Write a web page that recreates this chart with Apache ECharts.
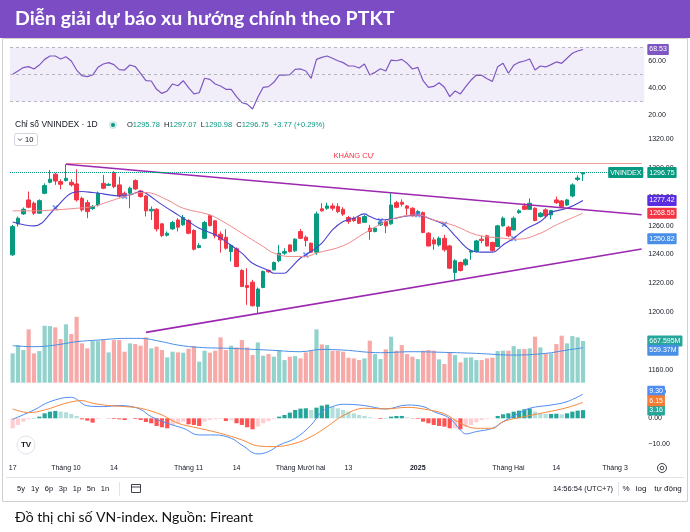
<!DOCTYPE html>
<html><head><meta charset="utf-8">
<script src="https://cdn.jsdelivr.net/npm/echarts@6.0.0/dist/echarts.min.js"></script>
<style>html,body{margin:0;padding:0;background:#fff}#c{width:690px;height:532px}</style>
</head><body><div id="c"></div>
<script>
// ---------- DATA ----------
const dates = [
'2024-09-17','2024-09-18','2024-09-19','2024-09-20','2024-09-23','2024-09-24','2024-09-25','2024-09-26','2024-09-27','2024-09-30',
'2024-10-01','2024-10-02','2024-10-03','2024-10-04','2024-10-07','2024-10-08','2024-10-09','2024-10-10','2024-10-11','2024-10-14',
'2024-10-15','2024-10-16','2024-10-17','2024-10-18','2024-10-21','2024-10-22','2024-10-23','2024-10-24','2024-10-25','2024-10-28',
'2024-10-29','2024-10-30','2024-10-31',
'2024-11-01','2024-11-04','2024-11-05','2024-11-06','2024-11-07','2024-11-08','2024-11-11','2024-11-12','2024-11-13','2024-11-14',
'2024-11-15','2024-11-18','2024-11-19','2024-11-20','2024-11-21','2024-11-22','2024-11-25','2024-11-26','2024-11-27','2024-11-28','2024-11-29',
'2024-12-02','2024-12-03','2024-12-04','2024-12-05','2024-12-06','2024-12-09','2024-12-10','2024-12-11','2024-12-12','2024-12-13',
'2024-12-16','2024-12-17','2024-12-18','2024-12-19','2024-12-20','2024-12-23','2024-12-24','2024-12-25','2024-12-26','2024-12-27',
'2024-12-30','2024-12-31',
'2025-01-02','2025-01-03','2025-01-06','2025-01-07','2025-01-08','2025-01-09','2025-01-10','2025-01-13','2025-01-14','2025-01-15',
'2025-01-16','2025-01-17','2025-01-20','2025-01-21','2025-01-22','2025-01-23','2025-01-24',
'2025-02-03','2025-02-04','2025-02-05','2025-02-06','2025-02-07','2025-02-10','2025-02-11','2025-02-12','2025-02-13','2025-02-14',
'2025-02-17','2025-02-18','2025-02-19','2025-02-20','2025-02-21','2025-02-24','2025-02-25','2025-02-26','2025-02-27','2025-02-28',
'2025-03-03','2025-03-04','2025-03-05','2025-03-06','2025-03-07','2025-03-10'
];
const tickDates = ['2024-09-17','2024-10-01','2024-10-14','2024-11-01','2024-11-14','2024-12-02','2024-12-13','2025-01-02','2025-02-03','2025-02-14','2025-03-03'];
const tickTexts = ['17','Tháng 10','14','Tháng 11','14','Tháng Mười hai','13','2025','Tháng Hai','14','Tháng 3'];

const openP = [1239.7,1261.2,1268.1,1277.8,1275.5,1268.6,1282.4,1290.0,1295.6,1290.5,1291.2,1290.0,1288.9,1278.9,1275.9,1271.8,1274.3,1289.3,1287.9,1296.7,
1288.2,1282.4,1282.4,1291.2,1284.0,1280.5,1270.2,1271.3,1261.2,1253.3,1257.7,1263.9,1260.5,1263.5,1256.6,1244.8,1251.2,1266.9,1263.3,1254.0,
1251.9,1242.0,1243.9,1228.9,1218.5,1220.8,1204.0,1217.1,1228.9,1229.3,1235.6,1240.9,1246.6,1242.5,1255.9,1251.9,1247.8,1241.6,1271.6,1272.0,
1273.6,1273.2,1271.3,1265.6,1265.1,1265.6,1262.3,1258.2,1255.9,1260.5,1262.8,1261.2,1275.9,1276.2,1273.6,1272.0,1268.1,1269.0,1254.7,1250.1,
1246.6,1251.2,1245.9,1227.5,1234.4,1232.8,1241.6,1242.0,1250.6,1252.9,1248.3,1245.5,1259.8,1258.9,1257.0,1269.0,1273.6,1271.3,1272.0,1266.3,
1270.9,1267.4,1277.8,1277.1,1274.3,1280.5,1292.0,1295.78];
const highP = [1260.5,1266.3,1272.5,1283.6,1276.6,1278.2,1289.3,1298.5,1296.7,1292.1,1302.5,1292.1,1299.0,1280.1,1277.8,1274.3,1283.6,1295.1,1289.5,1297.9,
1293.9,1283.6,1287.0,1292.1,1284.7,1281.2,1273.2,1272.0,1261.6,1255.9,1263.3,1265.1,1267.4,1264.4,1257.5,1247.8,1263.3,1267.9,1263.9,1255.9,
1257.5,1247.1,1244.8,1229.8,1230.5,1222.4,1217.1,1228.9,1229.5,1235.1,1246.6,1244.3,1247.1,1251.2,1257.7,1253.1,1248.2,1269.7,1275.5,1275.9,
1275.5,1275.5,1272.7,1266.7,1266.3,1266.7,1267.4,1260.5,1258.9,1263.5,1263.9,1282.4,1277.1,1278.2,1274.3,1272.7,1270.9,1269.7,1255.6,1251.9,
1252.4,1253.6,1246.6,1236.7,1235.1,1237.4,1243.2,1250.1,1252.9,1253.6,1248.9,1260.5,1266.3,1259.8,1266.3,1271.3,1275.5,1278.9,1272.7,1269.3,
1272.0,1270.9,1280.1,1277.8,1278.5,1289.3,1294.8,1297.07];
const lowP = [1239.0,1259.3,1267.4,1272.0,1267.4,1268.1,1281.7,1289.3,1288.2,1285.2,1290.5,1287.0,1276.6,1269.7,1265.1,1270.9,1273.2,1285.2,1287.4,1285.9,
1279.4,1279.6,1272.0,1284.7,1279.4,1266.3,1263.9,1255.9,1252.0,1252.4,1257.0,1255.9,1259.8,1254.0,1242.7,1244.3,1250.6,1259.3,1251.2,1241.3,
1243.2,1235.1,1231.2,1217.3,1205.1,1204.0,1199.4,1216.6,1227.3,1228.9,1234.6,1239.7,1241.3,1241.8,1250.6,1245.5,1240.9,1239.7,1269.7,1270.9,
1270.4,1268.6,1266.7,1261.2,1262.6,1261.2,1261.9,1250.1,1255.2,1259.8,1254.7,1260.5,1272.0,1273.2,1267.4,1266.3,1267.4,1254.7,1245.5,1243.2,
1245.5,1242.0,1229.8,1222.0,1228.2,1232.1,1236.3,1241.3,1247.8,1245.5,1242.0,1245.0,1259.3,1252.0,1256.6,1268.1,1270.9,1270.9,1263.0,1265.6,
1265.1,1264.4,1275.0,1272.7,1273.6,1279.6,1290.9,1290.98];
const closeP = [1259.3,1265.1,1271.3,1272.7,1268.6,1277.3,1287.7,1292.1,1290.9,1288.6,1292.8,1288.2,1277.8,1270.9,1269.7,1273.2,1282.4,1285.9,1288.6,1287.0,
1280.5,1280.5,1285.9,1285.4,1280.1,1270.2,1271.3,1257.7,1253.1,1254.7,1262.1,1258.9,1265.6,1254.7,1243.6,1246.2,1262.1,1260.0,1252.9,1250.1,
1244.3,1246.2,1231.6,1217.8,1217.1,1204.4,1216.0,1228.2,1228.0,1234.4,1240.9,1242.0,1242.0,1250.6,1251.2,1249.6,1241.6,1268.1,1270.2,1273.6,
1272.0,1269.7,1267.9,1262.8,1263.5,1261.6,1266.3,1255.9,1258.2,1262.1,1259.8,1274.3,1272.7,1274.8,1272.0,1266.7,1269.7,1255.2,1245.9,1247.3,
1251.2,1243.2,1230.5,1235.6,1228.9,1236.3,1242.5,1249.4,1249.6,1245.9,1242.7,1259.8,1265.1,1252.9,1265.1,1270.2,1271.3,1275.5,1263.5,1268.6,
1266.7,1270.4,1275.9,1273.2,1277.8,1288.2,1292.98,1296.75];
const volume = [469,602,522,853,469,506,911,906,885,698,933,778,1055,629,549,666,666,682,485,682,
682,496,629,618,592,725,549,576,522,405,496,485,480,544,586,336,512,480,512,725,
522,592,565,682,565,442,645,432,458,416,522,362,416,426,389,485,512,853,613,602,
512,512,496,400,389,362,389,672,458,378,533,736,512,602,458,416,378,512,522,512,
373,298,480,442,325,400,405,362,362,389,400,506,512,512,586,538,538,549,736,565,
469,469,618,752,629,746,725,667.595];
const rsi = [50.1,52.6,55.1,55.8,54.1,57.0,61.2,63.7,63.7,61.5,63.2,60.0,53.3,49.1,48.4,49.6,55.3,57.8,58.8,57.3,
53.6,53.3,57.0,55.8,50.9,45.4,45.2,39.0,36.0,37.8,43.0,41.7,45.4,40.2,35.6,36.5,47.2,46.4,43.0,41.5,
39.0,39.0,33.6,29.1,28.1,24.4,33.1,40.5,41.0,44.2,49.6,49.6,49.9,53.8,54.1,52.6,47.2,61.2,62.7,63.7,
62.0,60.2,58.8,56.3,56.3,54.8,57.8,49.6,51.6,54.3,52.6,60.7,60.2,61.2,58.3,54.1,55.3,45.4,40.5,41.2,
43.9,40.5,33.6,37.8,35.6,41.0,45.9,49.6,49.4,46.9,44.9,55.8,58.3,50.9,56.8,59.0,60.0,61.5,53.3,56.3,
55.6,57.3,59.3,58.3,62.0,65.7,67.4,68.53];
const macdHist = [-3.85,-2.56,-1.28,-0.38,0.1,0.64,1.92,2.56,2.82,2.56,2.31,1.67,0.9,-0.38,-0.9,-1.67,-0.26,-0.05,-0.1,-0.26,
-0.38,-0.64,-0.1,-0.26,-0.64,-1.41,-1.92,-2.95,-3.46,-3.85,-2.56,-1.92,-1.28,-2.31,-2.56,-2.95,-1.28,-0.64,-0.38,-0.26,
-1.03,-0.64,-1.92,-2.56,-3.46,-4.23,-3.2,-1.92,-1.03,-0.26,0.64,1.28,2.18,3.2,3.72,3.85,3.2,4.1,4.87,5.26,
4.49,3.85,3.2,2.56,1.92,1.28,0.9,0.38,-0.05,-0.26,0.1,0.64,0.9,0.9,0.38,-0.13,-0.26,-1.28,-1.92,-2.56,
-2.95,-3.2,-3.85,-3.85,-4.23,-3.2,-2.56,-1.54,-0.64,-0.26,-0.13,0.9,1.54,1.92,2.56,2.95,3.46,3.72,2.56,1.92,
1.67,1.67,1.75,1.54,1.92,2.56,2.95,3.16];
// sampled indicator lines: [bar index, value]
const macdLine = [[0,-0.4],[4,3.2],[7,6.4],[11,8.1],[12,7.3],[14,4.8],[17,4.5],[20,4.9],[22,4.6],[24,3.4],[26,0.64],[29,-1.9],[32,-3.85],[35,-6.4],[38,-6.4],[41,-7.7],[43,-10.3],[46,-13.7],[48,-12.8],[50,-10.3],[53,-7.7],[56,-2.56],[58,2.56],[60,4.5],[62,5.4],[66,4.9],[70,3.6],[74,5.1],[77,4.5],[79,2.56],[82,0],[84,-4.5],[85,-6.0],[87,-5.1],[90,-3.85],[92,-1.3],[94,0.9],[97,3.85],[101,5.1],[104,6.4],[107,9.30]];
const signalLine = [[0,3.6],[3,2.2],[6,3.2],[10,5.8],[13,6.8],[15,5.8],[18,4.9],[21,4.5],[24,3.85],[28,1.3],[31,-1.9],[35,-3.85],[39,-5.8],[43,-8.3],[46,-10.6],[49,-10.9],[53,-9.6],[56,-7.05],[59,-3.2],[62,1.0],[66,3.85],[70,3.6],[74,4.2],[77,3.6],[81,1.7],[84,-1.9],[87,-3.85],[90,-3.85],[92,-1.3],[96,0.64],[100,2.3],[104,4.1],[107,6.15]];
const maFast = [[0,1262.5],[4,1259.8],[8,1272.0],[11,1282.4],[13,1283.6],[15,1282.9],[17,1282.0],[20,1280.5],[22,1281.2],[24,1283.6],[25,1282.4],[28,1274.5],[31,1267.4],[33,1262.8],[35,1258.2],[38,1253.6],[40,1248.9],[43,1240.9],[45,1233.9],[48,1228.9],[49,1227.0],[51,1227.0],[52,1230.0],[54,1237.5],[56,1242.0],[58,1247.8],[60,1257.0],[62,1262.8],[64,1265.1],[66,1268.1],[67,1266.3],[69,1263.9],[71,1264.6],[74,1266.7],[76,1267.4],[78,1265.1],[81,1260.5],[83,1252.9],[86,1242.7],[88,1241.6],[90,1241.6],[92,1246.6],[94,1251.2],[96,1257.0],[99,1262.8],[101,1269.0],[104,1272.0],[107,1277.42]];
const maSlow = [[0,1270.2],[4,1270.2],[8,1270.9],[12,1272.0],[15,1273.2],[18,1276.6],[21,1280.1],[24,1282.9],[25,1282.9],[29,1277.8],[32,1272.0],[37,1267.4],[40,1261.6],[44,1252.4],[47,1245.5],[49,1240.9],[52,1238.6],[55,1238.6],[57,1240.9],[62,1246.0],[66,1254.7],[70,1262.8],[73,1266.3],[76,1267.4],[79,1263.9],[83,1259.8],[87,1253.6],[92,1251.2],[95,1250.6],[99,1254.7],[102,1260.5],[107,1268.55]];
const volMa = [[0,592],[4,576],[8,602],[12,656],[16,682],[21,709],[24,709],[28,656],[31,602],[35,565],[41,549],[48,522],[54,496],[58,533],[62,522],[69,480],[75,496],[81,485],[87,469],[94,442],[100,469],[104,522],[107,559.37]];
const crossMarks = [[8,1272.3],[21,1280.3],[55,1239.6],[69,1263.4],[76,1267.5],[81,1261.0],[94,1251.0]];
const upperTrend = [[10,1302.5],[118,1267.5]];
const lowerTrend = [[25,1186],[118,1243.8]];
const resistance = [[10,1303.2],[118,1303.2]];
const hiddenMaLast = 1250.82;

// ---------- CHART ----------
const UP = '#089981', DN = '#f23645';
const FONT = '"Liberation Sans", Arial, Helvetica, sans-serif';
const CLEAR = 'rgba(0,0,0,0)';
const L = closeP.length - 1;
const idx = arr => arr.map(([i, v]) => [dates[i], v]);
const last = arr => arr[arr.length - 1][1];
const candle = openP.map((o, i) => [o, closeP[i], lowP[i], highP[i]]);
const volData = volume.map((v, i) => ({ value: v, itemStyle: { color: closeP[i] >= openP[i] ? 'rgba(38,166,154,0.5)' : 'rgba(239,83,80,0.5)' } }));
const histData = macdHist.map((v, i) => {
  const p = i > 0 ? macdHist[i - 1] : v;
  const c = v >= 0 ? (v >= p ? '#26a69a' : '#b2dfdb') : (v < p ? '#ff5252' : '#ffcdd2');
  return { value: v, itemStyle: { color: c } };
});
function tag(bg, text, pos) {
  return { show: true, position: pos || 'end', distance: 3, formatter: text, backgroundColor: bg, color: '#fff',
    fontSize: 7, fontFamily: FONT, padding: [2, 2, 1, 2], borderRadius: 1, lineHeight: 8, opacity: 1 };
}
function tagLine(value, bg, text, pos) {
  return { yAxis: value, label: tag(bg, text, pos), lineStyle: { color: CLEAR, width: 1, type: 'solid' } };
}
const seg = (pts, style, label) => [
  { coord: [dates[pts[0][0]], pts[0][1]], lineStyle: style, label: label || { show: false } },
  { coord: [dates[pts[1][0]], pts[1][1]] }
];
const gb = { left: 10, right: 45.7, containLabel: false, outerBoundsMode: 'none' };
const axLbl = { fontSize: 7, color: '#131722', fontFamily: FONT, margin: 4 };
const ML = { symbol: ['none', 'none'], silent: true, animation: false };

const chart = echarts.init(document.getElementById('c'), null, { renderer: 'canvas', width: 690, height: 532 });
const chg = (closeP[L] - closeP[L - 1]);
const ohlcText = '{k|O}{v|' + openP[L].toFixed(2) + '}  {k|H}{v|' + highP[L].toFixed(2) + '}  {k|L}{v|' + lowP[L].toFixed(2) +
  '}  {k|C}{v|' + closeP[L].toFixed(2) + '}  {v|+' + chg.toFixed(2) + ' (+' + (chg / closeP[L - 1] * 100).toFixed(2) + '%)}';

const toolbarLeft = [['5y', 21], ['1y', 35], ['6p', 49], ['3p', 63], ['1p', 77], ['5n', 91], ['1n', 105]];
const gEls = [
  { type: 'rect', shape: { x: 0, y: 0, width: 690, height: 38 }, style: { fill: '#7b4cc4' } },
  { type: 'text', x: 15, y: 19, style: { text: 'Diễn giải dự báo xu hướng chính theo PTKT', fill: '#fff', font: 'bold 19.5px Lato, "Open Sans", sans-serif', verticalAlign: 'middle' } },
  { type: 'rect', shape: { x: 2.5, y: 38.5, width: 685, height: 463 }, style: { fill: 'none', stroke: '#d0d0d0', lineWidth: 1 } },
  { type: 'text', x: 15, y: 125, style: { text: 'Chỉ số VNINDEX · 1D', fill: '#131722', font: '8.5px ' + FONT, verticalAlign: 'middle' } },
  { type: 'circle', shape: { cx: 113, cy: 125, r: 4 }, style: { fill: 'rgba(8,153,129,0.2)' } },
  { type: 'circle', shape: { cx: 113, cy: 125, r: 2 }, style: { fill: UP } },
  { type: 'text', x: 127, y: 125, style: { text: ohlcText, verticalAlign: 'middle', font: '7.5px ' + FONT, fill: '#131722',
      rich: { k: { fill: '#131722', fontSize: 7.5, fontFamily: FONT }, v: { fill: UP, fontSize: 7.5, fontFamily: FONT } } } },
  { type: 'rect', shape: { x: 14.5, y: 133.5, width: 23, height: 12, r: 2 }, style: { fill: '#fff', stroke: '#d1d4dc' } },
  { type: 'polyline', shape: { points: [[18, 138.5], [20, 140.5], [22, 138.5]] }, style: { stroke: '#131722', fill: 'none', lineWidth: 0.8 } },
  { type: 'text', x: 25, y: 139.5, style: { text: '10', fill: '#131722', font: '7.5px ' + FONT, verticalAlign: 'middle' } },
  { type: 'circle', shape: { cx: 26, cy: 445, r: 9 }, style: { fill: '#fff', stroke: '#e0e3eb' } },
  { type: 'text', x: 26, y: 445, style: { text: 'TV', font: 'bold 8px ' + FONT, fill: '#131722', align: 'center', verticalAlign: 'middle' } },
  { type: 'circle', shape: { cx: 662, cy: 468, r: 4.5 }, style: { fill: 'none', stroke: '#131722', lineWidth: 0.8 } },
  { type: 'circle', shape: { cx: 662, cy: 468, r: 1.8 }, style: { fill: 'none', stroke: '#131722', lineWidth: 0.8 } },
  { type: 'line', shape: { x1: 6, y1: 477.5, x2: 684, y2: 477.5 }, style: { stroke: '#e0e3eb', lineWidth: 1 } },
  { type: 'line', shape: { x1: 119.5, y1: 482, x2: 119.5, y2: 496 }, style: { stroke: '#e0e3eb', lineWidth: 1 } },
  { type: 'rect', shape: { x: 131.5, y: 484.5, width: 9, height: 8 }, style: { fill: 'none', stroke: '#131722', lineWidth: 0.8 } },
  { type: 'line', shape: { x1: 131.5, y1: 487, x2: 140.5, y2: 487 }, style: { stroke: '#131722', lineWidth: 0.8 } },
  { type: 'text', x: 583, y: 489, style: { text: '14:56:54 (UTC+7)', font: '7.5px ' + FONT, fill: '#131722', align: 'center', verticalAlign: 'middle' } },
  { type: 'line', shape: { x1: 618.5, y1: 482, x2: 618.5, y2: 496 }, style: { stroke: '#e0e3eb', lineWidth: 1 } },
  { type: 'text', x: 626, y: 489, style: { text: '%', font: '8px ' + FONT, fill: '#131722', align: 'center', verticalAlign: 'middle' } },
  { type: 'text', x: 641, y: 489, style: { text: 'log', font: '8px ' + FONT, fill: '#131722', align: 'center', verticalAlign: 'middle' } },
  { type: 'text', x: 668, y: 489, style: { text: 'tự động', font: '8px ' + FONT, fill: '#131722', align: 'center', verticalAlign: 'middle' } },
  { type: 'text', x: 15, y: 517, style: { text: 'Đồ thị chỉ số VN-index. Nguồn: Fireant', fill: '#111', font: '14px Lato, "Open Sans", sans-serif', verticalAlign: 'middle' } }
];
toolbarLeft.forEach(([t, x]) => gEls.push({ type: 'text', x: x, y: 489, style: { text: t, font: '7.5px ' + FONT, fill: '#131722', align: 'center', verticalAlign: 'middle' } }));

const option = {
  animation: false,
  backgroundColor: '#fff',
  graphic: { elements: gEls },
  grid: [
    Object.assign({}, gb, { top: 124.6, height: 274.1 }),
    Object.assign({}, gb, { top: 295.2, height: 87.5 }),
    Object.assign({}, gb, { top: 40.75, height: 74.25 }),
    Object.assign({}, gb, { top: 387.1, height: 83.2 }),
    Object.assign({}, gb, { top: 440, height: 19 })
  ],
  xAxis: [0, 1, 2, 3, 4].map(g => ({
    type: 'category', gridIndex: g, data: dates, boundaryGap: true, show: g === 4,
    axisLine: { show: false }, axisTick: { show: false }, splitLine: { show: false },
    axisLabel: g === 4 ? {
      show: true, fontSize: 7, color: '#131722', fontFamily: FONT, margin: 6,
      interval: (i, v) => tickDates.indexOf(v) >= 0,
      formatter: v => { const t = tickTexts[tickDates.indexOf(v)]; return /^\d{4}$/.test(t) ? '{b|' + t + '}' : t; },
      rich: { b: { fontWeight: 'bold', fontSize: 7, color: '#131722', fontFamily: FONT } }
    } : { show: false }
  })),
  yAxis: [
    { gridIndex: 0, type: 'value', position: 'right', min: 1140, max: 1330, interval: 20, splitLine: { show: false }, axisLine: { show: false }, axisTick: { show: false },
      axisLabel: Object.assign({}, axLbl, { showMinLabel: false, showMaxLabel: false, formatter: v => v.toFixed(2) }) },
    { gridIndex: 1, type: 'value', min: 0, max: 1400, show: false, splitLine: { show: false } },
    { gridIndex: 2, type: 'value', position: 'right', min: 20, max: 75, interval: 20, splitLine: { show: false }, axisLine: { show: false }, axisTick: { show: false },
      axisLabel: Object.assign({}, axLbl, { showMaxLabel: false, formatter: v => v.toFixed(2) }) },
    { gridIndex: 3, type: 'value', position: 'right', min: -20, max: 12, interval: 10, splitLine: { show: false }, axisLine: { show: false }, axisTick: { show: false },
      axisLabel: Object.assign({}, axLbl, { showMinLabel: false, showMaxLabel: false, formatter: v => (v < 0 ? '\u2212' : '') + Math.abs(v).toFixed(2) }) },
    { gridIndex: 4, type: 'value', show: false, splitLine: { show: false } }
  ],
  series: [
    { type: 'candlestick', xAxisIndex: 0, yAxisIndex: 0, data: candle, barWidth: '75%',
      itemStyle: { color: UP, color0: DN, borderColor: UP, borderColor0: DN, borderWidth: 1 },
      markLine: Object.assign({}, ML, { label: { show: false },
        data: [
          seg(resistance, { color: '#f19a9a', width: 1, type: 'solid' },
              { show: true, position: 'insideMiddleTop', formatter: 'KHÁNG CỰ', color: DN, fontSize: 7.5, fontFamily: FONT, distance: 3 }),
          seg(upperTrend, { color: '#9c27b0', width: 1.6, type: 'solid' }),
          seg(lowerTrend, { color: '#9c27b0', width: 1.6, type: 'solid' }),
          { yAxis: closeP[L], lineStyle: { type: 'dotted', color: UP, width: 1 }, label: tag(UP, closeP[L].toFixed(2)) },
          { yAxis: closeP[L], lineStyle: { color: CLEAR, width: 1, type: 'solid' }, label: Object.assign(tag(UP, 'VNINDEX', 'insideEnd'), { distance: 1 }) },
          tagLine(hiddenMaLast, '#4a8fe7', hiddenMaLast.toFixed(2))
        ] }) },
    { type: 'line', xAxisIndex: 0, yAxisIndex: 0, data: idx(maFast), smooth: 0.4, showSymbol: false, lineStyle: { color: '#4a43d0', width: 1.1 },
      markLine: Object.assign({}, ML, { data: [tagLine(last(maFast), '#5a2ee0', last(maFast).toFixed(2))] }) },
    { type: 'line', xAxisIndex: 0, yAxisIndex: 0, data: idx(maSlow), smooth: 0.4, showSymbol: false, lineStyle: { color: '#f08a8a', width: 1 },
      markLine: Object.assign({}, ML, { data: [tagLine(last(maSlow), DN, last(maSlow).toFixed(2))] }) },
    { type: 'scatter', xAxisIndex: 0, yAxisIndex: 0, data: idx(crossMarks), symbol: 'path://M2,0L5,3L8,0L10,2L7,5L10,8L8,10L5,7L2,10L0,8L3,5L0,2Z', symbolSize: 6,
      itemStyle: { color: '#4f7ff0' }, silent: true },
    { type: 'bar', xAxisIndex: 1, yAxisIndex: 1, data: volData, barWidth: '78%', silent: true,
      markLine: Object.assign({}, ML, { data: [tagLine(volume[L], '#26a69a', volume[L] + 'M')] }) },
    { type: 'line', xAxisIndex: 1, yAxisIndex: 1, data: idx(volMa), smooth: 0.4, showSymbol: false, lineStyle: { color: '#4a8fe7', width: 1 },
      markLine: Object.assign({}, ML, { data: [tagLine(last(volMa) - 40, '#4a8fe7', last(volMa) + 'M')] }) },
    { type: 'line', xAxisIndex: 2, yAxisIndex: 2, data: rsi, showSymbol: false, lineStyle: { color: '#7e57c2', width: 1.2 },
      markArea: { silent: true, itemStyle: { color: 'rgba(126,87,194,0.1)' }, data: [[{ yAxis: 30 }, { yAxis: 70 }]] },
      markLine: Object.assign({}, ML, { label: { show: false },
        data: [
          { yAxis: 70, lineStyle: { type: [3, 3], color: '#a3a6af', width: 0.8 } },
          { yAxis: 50, lineStyle: { type: [3, 3], color: '#a3a6af', width: 0.8 } },
          { yAxis: 30, lineStyle: { type: [3, 3], color: '#a3a6af', width: 0.8 } },
          tagLine(rsi[L], '#7e57c2', rsi[L].toFixed(2))] }) },
    { type: 'bar', xAxisIndex: 3, yAxisIndex: 3, data: histData, barWidth: '78%', silent: true,
      markLine: Object.assign({}, ML, { data: [tagLine(macdHist[L], '#26a69a', macdHist[L].toFixed(2))] }) },
    { type: 'line', xAxisIndex: 3, yAxisIndex: 3, data: idx(macdLine), smooth: 0.4, showSymbol: false, lineStyle: { color: '#4f8df5', width: 1 },
      markLine: Object.assign({}, ML, { data: [tagLine(last(macdLine) + 1.1, '#4f8df5', last(macdLine).toFixed(2))] }) },
    { type: 'line', xAxisIndex: 3, yAxisIndex: 3, data: idx(signalLine), smooth: 0.4, showSymbol: false, lineStyle: { color: '#f7893b', width: 1 },
      markLine: Object.assign({}, ML, { data: [tagLine(last(signalLine) + 0.6, '#f57c32', last(signalLine).toFixed(2))] }) }
  ]
};
chart.setOption(option);
</script>
</body></html>
